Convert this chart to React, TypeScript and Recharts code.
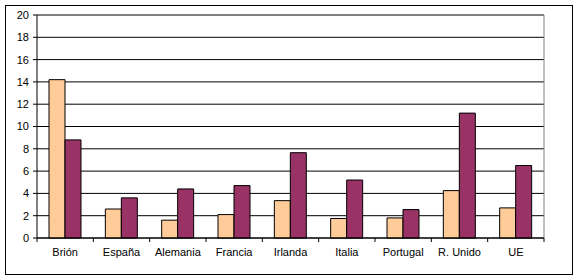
import { Bar, BarChart, CartesianGrid, ReferenceLine, XAxis, YAxis } from "recharts";

const CATEGORIES = ["Brión", "España", "Alemania", "Francia", "Irlanda", "Italia", "Portugal", "R. Unido", "UE"];
const SERIES_A = [14.2, 2.6, 1.6, 2.1, 3.35, 1.75, 1.8, 4.25, 2.7];
const SERIES_B = [8.8, 3.6, 4.4, 4.7, 7.65, 5.2, 2.55, 11.2, 6.5];
const Y_TICKS = [0, 2, 4, 6, 8, 10, 12, 14, 16, 18, 20];

const FONT = "'Liberation Sans', Arial, sans-serif";

const W = 579;
const H = 280;
const MARGIN = { top: 15, right: 35, bottom: 12, left: 0 };
const Y_AXIS_W = 37;
const BAND = (W - MARGIN.left - MARGIN.right - Y_AXIS_W) / CATEGORIES.length;

// category label plus tick marks on the band edges (Excel style)
function CategoryTick(props: any) {
  const { x, y, payload, index } = props;
  const left = x - BAND / 2;
  const right = x + BAND / 2;
  return (
    <g>
      <line x1={left} x2={left} y1={y} y2={y + 4} stroke="#000" />
      {index === CATEGORIES.length - 1 && <line x1={right} x2={right} y1={y} y2={y + 4} stroke="#000" />}
      <text x={x} y={y + 10} dy="0.71em" textAnchor="middle" fill="#000" fontSize={11} fontFamily={FONT}>
        {payload.value}
      </text>
    </g>
  );
}

export default function App() {
  const data = CATEGORIES.map((name, i) => ({ name, a: SERIES_A[i], b: SERIES_B[i] }));

  return (
    <div style={{ position: "absolute", left: 0, top: 0, width: W, height: H, background: "#fff" }}>
      <div
        style={{
          position: "absolute",
          left: 5,
          top: 5,
          width: 566,
          height: 268,
          border: "1px solid #000",
        }}
      />
      <div style={{ position: "absolute", left: 0, top: 0 }}>
        <BarChart width={W} height={H} data={data} margin={MARGIN} barCategoryGap={12} barGap={0}>
          <CartesianGrid vertical={false} stroke="#000" strokeWidth={1} />
          <CartesianGrid
            horizontal={false}
            stroke="#808080"
            verticalCoordinatesGenerator={({ offset }: any) => [offset.left + offset.width]}
          />
          <XAxis
            dataKey="name"
            tickLine={false}
            tickSize={0}
            tickMargin={0}
            axisLine={{ stroke: "#000" }}
            tick={CategoryTick}
            interval={0}
            height={30}
          />
          <YAxis
            domain={[0, 20]}
            ticks={Y_TICKS}
            width={Y_AXIS_W}
            tickSize={4}
            tickMargin={4}
            axisLine={{ stroke: "#000" }}
            tickLine={{ stroke: "#000" }}
            tick={{ fill: "#000", fontSize: 11, fontFamily: FONT }}
            interval={0}
          />
          <ReferenceLine y={20} stroke="#808080" />
          <Bar dataKey="a" fill="#FFCC99" stroke="#000" strokeWidth={1} isAnimationActive={false} />
          <Bar dataKey="b" fill="#993366" stroke="#000" strokeWidth={1} isAnimationActive={false} />
        </BarChart>
      </div>
    </div>
  );
}
